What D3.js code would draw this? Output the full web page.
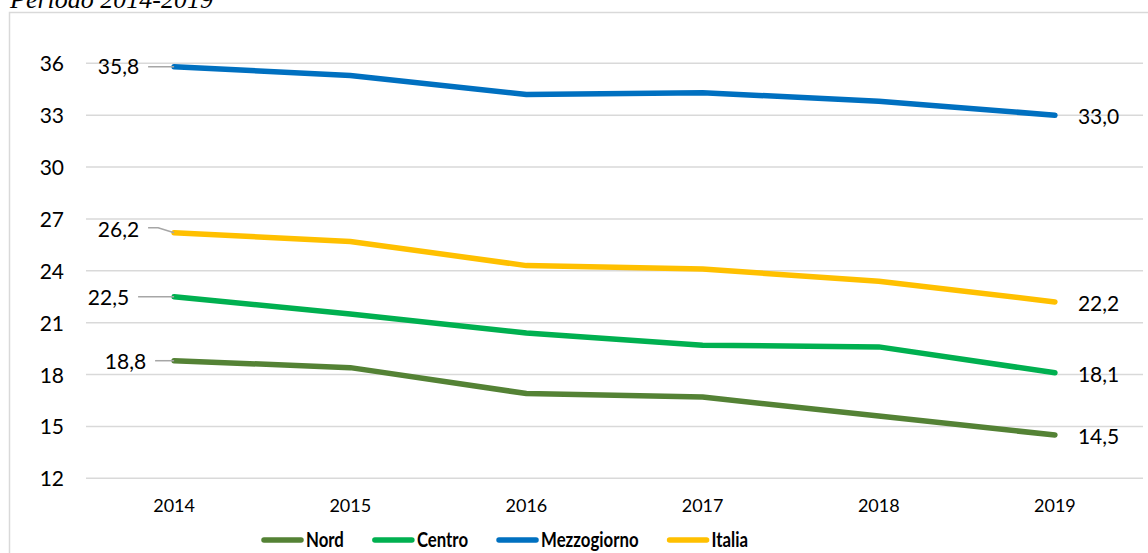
<!DOCTYPE html>
<html lang="it">
<head>
    <meta charset="UTF-8">
    <title>Periodo 2014-2019</title>
    <script src="https://d3js.org/d3.v7.min.js"></script>
    <style>
        body { margin: 0; background: #fff; }
        svg { display: block; }
    </style>
</head>
<body>

    <svg id="svg" width="1148" height="553"></svg>

    <script>
        // data
        const years = ["2014", "2015", "2016", "2017", "2018", "2019"];
        const seriesNames = ["Nord", "Centro", "Mezzogiorno", "Italia"];
        const nord = [18.8, 18.4, 16.9, 16.7, 15.6, 14.5];
        const centro = [22.5, 21.5, 20.4, 19.7, 19.6, 18.1];
        const mezzogiorno = [35.8, 35.3, 34.2, 34.3, 33.8, 33.0];
        const italia = [26.2, 25.7, 24.3, 24.1, 23.4, 22.2];
        const yTicks = [12, 15, 18, 21, 24, 27, 30, 33, 36];
        const title = "Periodo 2014-2019";

        const colors = ["#548235", "#00B050", "#0070C0", "#FFC000"];
        const seriesValues = [nord, centro, mezzogiorno, italia];

        // label placement for the first point (left side, with leader line)
        const firstLabel = [
            { dx: -28, dy: 1, lead: 19 },   // Nord
            { dx: -45, dy: 1, lead: 36 },   // Centro
            { dx: -35, dy: 0, lead: 26 },   // Mezzogiorno
            { dx: -35, dy: -3, lead: 26 }   // Italia
        ];

        const svg = d3.select('svg');
        const width = +svg.attr('width');
        const height = +svg.attr('height');

        const font = "Lato, 'Open Sans', sans-serif";

        // outer chart border
        svg.append('rect')
            .attr('x', 9.5)
            .attr('y', 12.5)
            .attr('width', width + 10)
            .attr('height', height + 10)
            .attr('fill', 'none')
            .attr('stroke', '#d9d9d9')
            .attr('stroke-width', 1.5);

        // title (cut at the top in the original)
        svg.append('text')
            .attr('x', 10)
            .attr('y', 8)
            .attr('font-family', "'Liberation Serif', 'DejaVu Serif', serif")
            .attr('font-style', 'italic')
            .attr('font-size', 26)
            .attr('fill', '#000')
            .text(title);

        const plotLeft = 86, plotRight = 1143;
        const x = d3.scaleBand()
            .domain(years)
            .range([plotLeft, plotRight]);
        const y = d3.scaleLinear()
            .domain([12, 36])
            .range([478.3, 63.3]);
        const cx = d => x(d) + x.bandwidth() / 2;

        // gridlines
        svg.append('g')
            .selectAll('line')
            .data(yTicks)
            .enter()
            .append('line')
            .attr('x1', plotLeft)
            .attr('x2', plotRight)
            .attr('y1', d => y(d))
            .attr('y2', d => y(d))
            .attr('stroke', '#d9d9d9')
            .attr('stroke-width', 1.5);

        // y axis labels
        const yAxis = svg.append('g')
            .attr('transform', `translate(64,0)`)
            .call(d3.axisLeft(y).tickValues(yTicks).tickSize(0).tickPadding(0));
        yAxis.select('.domain').remove();
        yAxis.selectAll('text')
            .attr('font-family', font)
            .attr('font-size', 21)
            .attr('fill', '#000')
            .attr('dy', '0.36em');

        // x axis labels
        const xAxis = svg.append('g')
            .attr('transform', `translate(0,499)`)
            .call(d3.axisBottom(x).tickSize(0).tickPadding(0));
        xAxis.select('.domain').remove();
        xAxis.selectAll('text')
            .attr('font-family', font)
            .attr('font-size', 18)
            .attr('fill', '#000')
            .attr('dy', '0.71em');

        const line = d3.line()
            .x((d, i) => cx(years[i]))
            .y(d => y(d));

        seriesValues.forEach((vals, s) => {
            svg.append('path')
                .datum(vals)
                .attr('d', line)
                .attr('fill', 'none')
                .attr('stroke', colors[s])
                .attr('stroke-width', 5.5)
                .attr('stroke-linecap', 'round')
                .attr('stroke-linejoin', 'round');
        });

        const fmt = v => d3.format('.1f')(v).replace('.', ',');

        // first-point labels with leader lines
        seriesValues.forEach((vals, s) => {
            const px = cx(years[0]);
            const py = y(vals[0]);
            const lab = firstLabel[s];
            const ly = py + lab.dy;
            const leadStart = px - lab.lead;
            let pts;
            if (lab.dy < -1) {
                pts = [[leadStart, ly - 2], [leadStart + 10, ly - 2], [px, py]];
            } else {
                pts = [[leadStart, py], [px, py]];
            }
            svg.append('path')
                .attr('d', d3.line()(pts))
                .attr('fill', 'none')
                .attr('stroke', '#a6a6a6')
                .attr('stroke-width', 1.5);
            svg.append('text')
                .attr('x', px + lab.dx)
                .attr('y', ly)
                .attr('dy', '0.36em')
                .attr('text-anchor', 'end')
                .attr('font-family', font)
                .attr('font-size', 21)
                .attr('fill', '#000')
                .text(fmt(vals[0]));
        });

        // last-point labels
        seriesValues.forEach((vals, s) => {
            const last = vals.length - 1;
            svg.append('text')
                .attr('x', cx(years[last]) + 23)
                .attr('y', y(vals[last]) + 1.5)
                .attr('dy', '0.36em')
                .attr('font-family', font)
                .attr('font-size', 21)
                .attr('fill', '#000')
                .text(fmt(vals[last]));
        });

        // legend (text squeezed a bit to look like a condensed bold face)
        const squeeze = 0.84;
        const legend = svg.append('g');
        let lx = 262;
        const ly = 540;
        seriesNames.forEach((name, s) => {
            legend.append('line')
                .attr('x1', lx + 2)
                .attr('x2', lx + 39)
                .attr('y1', ly)
                .attr('y2', ly)
                .attr('stroke', colors[s])
                .attr('stroke-width', 5.5)
                .attr('stroke-linecap', 'round');
            const t = legend.append('g')
                .attr('transform', `translate(${lx + 44},${ly}) scale(${squeeze},1)`)
                .append('text')
                .attr('dy', '0.36em')
                .attr('font-family', font)
                .attr('font-weight', 'bold')
                .attr('font-size', 20)
                .attr('fill', '#000')
                .text(name);
            lx += 44 + t.node().getComputedTextLength() * squeeze + 29;
        });
    </script>

</body>
</html>
